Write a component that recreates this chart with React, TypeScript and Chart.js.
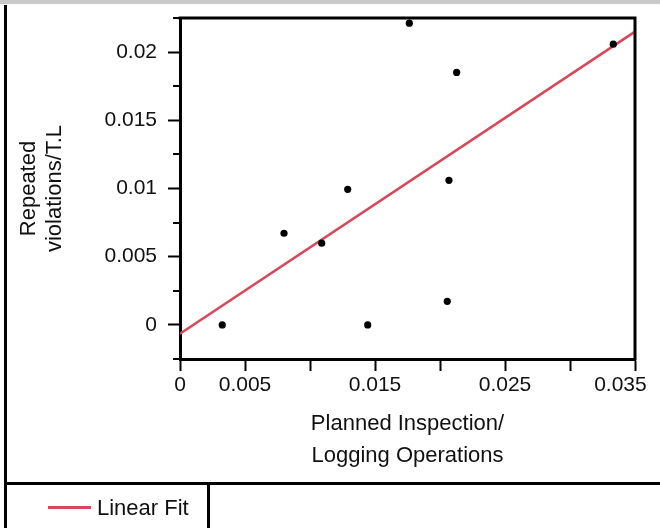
import React, { useEffect, useRef } from 'react';
import { Chart, registerables } from 'chart.js';

Chart.register(...registerables);

// ---- data ----
const inspectionX = [0.00325, 0.0080, 0.0109, 0.0129, 0.01444, 0.01764, 0.02056, 0.02069, 0.02128, 0.03333];
const violationsY = [0.0, 0.00672, 0.00599, 0.00994, 0.0, 0.02212, 0.00173, 0.0106, 0.01851, 0.02058];
const fitX = [0, 0.035];
const fitY = [-0.00065, 0.0215];
const xTickValues = [0, 0.005, 0.01, 0.015, 0.02, 0.025, 0.03, 0.035];
const xTickLabels = ['0', '0.005', '', '0.015', '', '0.025', '', '0.035'];
const yTickValues = [-0.0025, 0, 0.0025, 0.005, 0.0075, 0.01, 0.0125, 0.015, 0.0175, 0.02, 0.0225];
const yTickLabels = ['', '0', '', '0.005', '', '0.01', '', '0.015', '', '0.02', ''];
const xTitle = ['Planned Inspection/', 'Logging Operations'];
const yTitle = ['Repeated', 'violations/T.L'];
const fitLabel = 'Linear Fit';

const FONT = '"Liberation Sans", Arial, sans-serif';
const FIT_COLOR = '#d9485a';

const framePlugin = {
  id: 'framePlugin',
  afterDraw(chart: any) {
    const ctx = chart.ctx;
    const { left, right, top, bottom } = chart.chartArea;
    ctx.save();
    // outer decorations
    ctx.fillStyle = '#c8c8c8';
    ctx.fillRect(0, 0, chart.width, 4);
    ctx.fillStyle = '#000';
    ctx.fillRect(4, 5, 3, chart.height - 5);
    ctx.fillRect(4, 482, chart.width - 4, 3);
    ctx.fillRect(207, 482, 3, chart.height - 482);
    // plot frame top / right
    ctx.strokeStyle = '#000';
    ctx.lineWidth = 3;
    ctx.beginPath();
    ctx.moveTo(left - 1.5, top);
    ctx.lineTo(right, top);
    ctx.lineTo(right, bottom + 1.5);
    ctx.stroke();
    // minor y ticks
    const ys = chart.scales.y;
    ctx.lineWidth = 2;
    ys.ticks.forEach((t: any, i: number) => {
      if (yTickLabels[i]) return;
      const py = Math.round(ys.getPixelForValue(t.value));
      ctx.beginPath();
      ctx.moveTo(left - 7, py);
      ctx.lineTo(left, py);
      ctx.stroke();
    });
    // legend
    const ds = chart.data.datasets[1];
    ctx.strokeStyle = ds.borderColor;
    ctx.lineWidth = 3;
    ctx.beginPath();
    ctx.moveTo(48, 507.5);
    ctx.lineTo(91, 507.5);
    ctx.stroke();
    ctx.fillStyle = '#111';
    ctx.font = `22px ${FONT}`;
    ctx.textAlign = 'left';
    ctx.textBaseline = 'middle';
    ctx.fillText(ds.label, 97, 509);
    ctx.restore();
  },
};

export default function App() {
  const ref = useRef<HTMLCanvasElement>(null);
  useEffect(() => {
    if (!ref.current) return;
    const chart = new Chart(ref.current, {
      type: 'scatter',
      data: {
        datasets: [
          {
            label: 'Data',
            data: inspectionX.map((x, i) => ({ x, y: violationsY[i] })),
            backgroundColor: '#000',
            borderWidth: 0,
            pointRadius: 3.6,
            pointHoverRadius: 3.6,
          },
          {
            type: 'line',
            label: fitLabel,
            data: fitX.map((x, i) => ({ x, y: fitY[i] })),
            borderColor: FIT_COLOR,
            backgroundColor: FIT_COLOR,
            borderWidth: 2.5,
            pointRadius: 0,
            showLine: true,
            fill: false,
          } as any,
        ],
      },
      options: {
        responsive: false,
        animation: false,
        layout: { padding: { left: 0, top: 18, right: 25, bottom: 45 } },
        plugins: { legend: { display: false }, tooltip: { enabled: false } },
        scales: {
          x: {
            type: 'linear',
            min: 0,
            max: 0.035,
            afterBuildTicks: (s: any) => { s.ticks = xTickValues.map((v) => ({ value: v })); },
            afterFit: (s: any) => { s.height = 124; s.paddingLeft = 0; s.paddingRight = 0; },
            border: { display: true, color: '#000', width: 3 },
            grid: { drawOnChartArea: false, drawTicks: true, tickLength: 12, tickWidth: 2, tickColor: '#000' },
            ticks: {
              autoSkip: false,
              maxRotation: 0,
              padding: 2,
              color: '#111',
              font: { family: FONT, size: 21 },
              callback: (_v: any, i: number) =>
                i === xTickLabels.length - 1 ? xTickLabels[i] + '     ' : xTickLabels[i],
            },
            title: {
              display: true,
              text: xTitle,
              color: '#111',
              font: { family: FONT, size: 22, lineHeight: '32px' },
              padding: { top: 0, bottom: 11 },
            },
          },
          y: {
            type: 'linear',
            min: -0.0025,
            max: 0.0225,
            afterBuildTicks: (s: any) => { s.ticks = yTickValues.map((v) => ({ value: v })); },
            afterFit: (s: any) => { s.width = 180; s.paddingTop = 0; s.paddingBottom = 0; },
            border: { display: true, color: '#000', width: 3 },
            grid: {
              drawOnChartArea: false,
              drawTicks: true,
              tickLength: 12,
              tickWidth: 2,
              tickColor: (c: any) => (yTickLabels[c.index] ? '#000' : 'rgba(0,0,0,0)'),
            },
            ticks: {
              autoSkip: false,
              padding: 11,
              color: '#111',
              font: { family: FONT, size: 21 },
              callback: (_v: any, i: number) => yTickLabels[i],
            },
            title: {
              display: true,
              text: yTitle,
              color: '#111',
              font: { family: FONT, size: 22, lineHeight: '26px' },
              padding: { top: 16, bottom: 0 },
            },
          },
        },
      },
      plugins: [framePlugin],
    });
    return () => chart.destroy();
  }, []);
  return (
    <div style={{ position: 'fixed', left: 0, top: 0, width: 660, height: 528, background: '#fff' }}>
      <canvas ref={ref} width={660} height={528} />
    </div>
  );
}
